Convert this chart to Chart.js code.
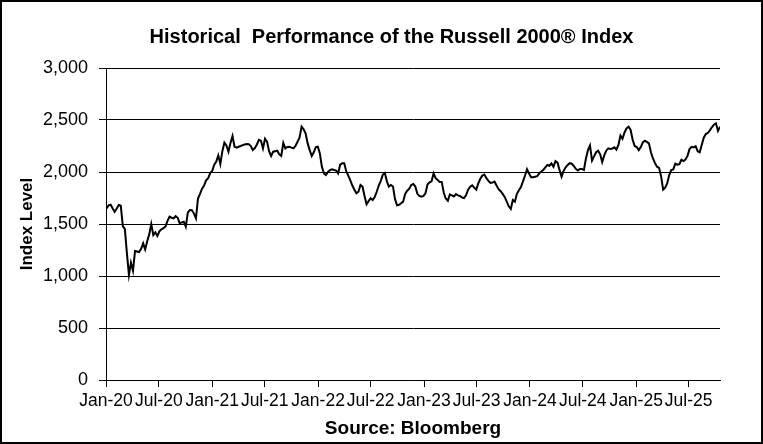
<!DOCTYPE html>
<html>
<head>
<meta charset="utf-8">
<script src="https://cdn.jsdelivr.net/npm/chart.js@4.4.1/dist/chart.umd.min.js"></script>
<style>
  body { margin: 0; background: #fff; }
</style>
</head>
<body>
<canvas id="myChart" width="763" height="444"></canvas>
<script>
// weekly closes of the Russell 2000 (first week ends 2020-01-03)
const firstWeek = '2020-01-03';
const values = [
  1650, 1680, 1685, 1650, 1618, 1650, 1683, 1675, 1480, 1450,
  1220, 1010, 1128, 1051, 1240, 1235, 1230, 1262, 1314, 1255,
  1335, 1400, 1500, 1394, 1420, 1385, 1430, 1449, 1460, 1475,
  1530, 1570, 1560, 1555, 1575, 1560, 1506, 1515, 1522, 1474,
  1610, 1635, 1632, 1600, 1555, 1745, 1790, 1840, 1870, 1920,
  1940, 1990, 2010, 2070, 2100, 2160, 2077, 2200, 2282, 2255,
  2195, 2280, 2346, 2243, 2235, 2243, 2250, 2258, 2265, 2269,
  2268, 2250, 2211, 2230, 2265, 2310, 2300, 2227, 2320, 2291,
  2200, 2154, 2195, 2200, 2205, 2170, 2154, 2280, 2227, 2240,
  2243, 2235, 2227, 2250, 2291, 2330, 2436, 2410, 2370, 2275,
  2210, 2154, 2190, 2240, 2243, 2179, 2050, 1987, 1971, 2000,
  2019, 2026, 2020, 2013, 1987, 2070, 2083, 2083, 2005, 1965,
  1920, 1870, 1830, 1795, 1810, 1875, 1859, 1770, 1690, 1720,
  1747, 1731, 1760, 1810, 1870, 1915, 1975, 1990, 1910, 1860,
  1875, 1860, 1740, 1680, 1685, 1700, 1715, 1790, 1820, 1840,
  1875, 1885, 1860, 1790, 1770, 1763, 1770, 1795, 1880, 1900,
  1910, 1987, 1940, 1923, 1905, 1905, 1800, 1745, 1724, 1785,
  1775, 1765, 1788, 1775, 1769, 1755, 1750, 1779, 1830, 1859,
  1872, 1850, 1830, 1890, 1935, 1965, 1975, 1940, 1915, 1895,
  1898, 1907, 1870, 1835, 1815, 1790, 1760, 1715, 1670, 1645,
  1731, 1715, 1790, 1825, 1855, 1910, 1965, 2026, 1985, 1950,
  1950, 1955, 1960, 1987, 2005, 2020, 2045, 2067, 2060, 2083,
  2051, 2105, 2090, 2020, 1955, 2010, 2045, 2067, 2085, 2080,
  2058, 2030, 2015, 2030, 2030, 2019, 2130, 2210, 2255, 2110,
  2150, 2190, 2205, 2170, 2095, 2160, 2205, 2227, 2222, 2225,
  2237, 2215, 2260, 2350, 2320, 2380, 2420, 2436, 2404, 2310,
  2250, 2240, 2210, 2240, 2285, 2300, 2290, 2275, 2190, 2130,
  2085, 2051, 2040, 1960, 1830, 1850, 1890, 1970, 2019, 2025,
  2080, 2070, 2075, 2118, 2105, 2120, 2155, 2220, 2242, 2237,
  2248, 2200, 2190, 2260, 2330, 2365, 2375, 2400, 2430, 2455,
  2468, 2395, 2436
];
const tickLabels = ['Jan-20', 'Jul-20', 'Jan-21', 'Jul-21', 'Jan-22', 'Jul-22',
                    'Jan-23', 'Jul-23', 'Jan-24', 'Jul-24', 'Jan-25', 'Jul-25'];
const yTicks = [0, 500, 1000, 1500, 2000, 2500, 3000];

const DAY = 86400000;
const start = Date.parse(firstWeek + 'T00:00:00Z');
const points = values.map((v, i) => ({ x: start + i * 7 * DAY, y: v }));

const monthIdx = { Jan: 0, Jul: 6 };
const tickValues = tickLabels.map(l => {
  const [m, yy] = l.split('-');
  return Date.UTC(2000 + Number(yy), monthIdx[m], 1);
});

// thin black frame round the whole picture
const frame = {
  id: 'frame',
  afterDraw(chart) {
    const c = chart.ctx;
    c.save();
    c.strokeStyle = '#000';
    c.lineWidth = 2;
    c.strokeRect(1, 1, chart.width - 2, chart.height - 2);
    c.restore();
  }
};

Chart.defaults.font.family = '"Liberation Sans", Arial, sans-serif';
Chart.defaults.color = '#000';

const ctx = document.getElementById('myChart').getContext('2d');
const myChart = new Chart(ctx, {
  type: 'line',
  data: {
    datasets: [{
      label: 'Russell 2000',
      data: points,
      borderColor: '#000',
      borderWidth: 2,
      pointRadius: 0,
      tension: 0,
      fill: false
    }]
  },
  options: {
    responsive: false,
    animation: false,
    // right gap comes from the x scale padding so the title centres like the original
    layout: { padding: { left: 20, right: 0, top: 0, bottom: 4 } },
    plugins: {
      legend: { display: false },
      tooltip: { enabled: false },
      title: {
        display: true,
        text: 'Historical  Performance of the Russell 2000® Index',
        font: { size: 20, weight: 'bold' },
        color: '#000',
        padding: { top: 25, bottom: 19 }
      }
    },
    scales: {
      x: {
        type: 'linear',
        min: Date.UTC(2020, 0, 1),
        max: points[points.length - 1].x,
        afterBuildTicks: s => { s.ticks = tickValues.map(v => ({ value: v })); },
        afterFit: s => { s.height = 60; s.paddingRight = 43; },
        ticks: {
          autoSkip: false,
          maxRotation: 0,
          padding: 4,
          font: { size: 17.5 },
          callback: (v, i) => tickLabels[i]
        },
        grid: { drawOnChartArea: false, color: '#000', tickLength: 7 },
        border: { color: '#000', width: 1 },
        title: {
          display: true,
          text: 'Source: Bloomberg',
          font: { size: 19, weight: 'bold' },
          padding: { top: 0, bottom: 0 }
        }
      },
      y: {
        min: 0,
        max: 3000,
        afterBuildTicks: s => { s.ticks = yTicks.map(v => ({ value: v })); },
        afterFit: s => { s.width = 86; },
        ticks: {
          padding: 11,
          font: { size: 18 },
          callback: v => v.toLocaleString('en-US')
        },
        grid: { color: '#000', lineWidth: 1, tickLength: 7 },
        border: { color: '#000', width: 1 },
        title: {
          display: true,
          text: 'Index Level',
          font: { size: 17, weight: 'bold' },
          padding: { top: -3, bottom: 0 }
        }
      }
    }
  },
  plugins: [frame]
});
</script>
</body>
</html>
